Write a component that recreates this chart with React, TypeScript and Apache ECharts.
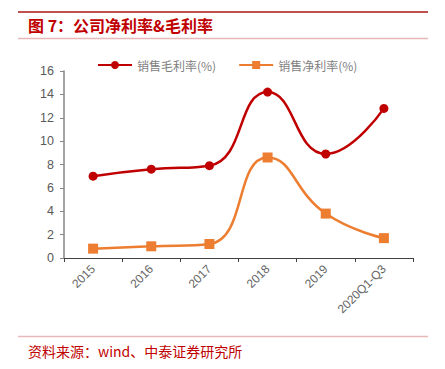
import React, { useEffect, useRef } from "react";
import * as echarts from "echarts";

const categories = ["2015", "2016", "2017", "2018", "2019", "2020Q1-Q3"];
const grossMargin = [7.0, 7.6, 7.9, 14.2, 8.9, 12.8];
const netMargin = [0.8, 1.0, 1.2, 8.6, 3.8, 1.7];
const seriesNames = ["销售毛利率(%)", "销售净利率(%)"];
const titleText = "图 7：公司净利率&毛利率";
const sourceText = "资料来源：wind、中泰证券研究所";

const CJK = '"Noto Sans CJK SC", sans-serif';

export default function App() {
  const ref = useRef<HTMLDivElement>(null);
  useEffect(() => {
    if (!ref.current) return;
    const chart = echarts.init(ref.current, undefined, { renderer: "svg" });
    chart.setOption({
      animation: false,
      backgroundColor: "#ffffff",
      legend: {
        top: 54,
        left: 92,
        itemGap: 22,
        itemWidth: 34,
        itemHeight: 10,
        textStyle: { color: "#7f7f7f", fontSize: 12, fontFamily: CJK },
        data: seriesNames,
      },
      grid: { left: 64, right: 32, top: 71, bottom: 111 },
      xAxis: {
        type: "category",
        data: categories,
        boundaryGap: true,
        axisLine: { lineStyle: { color: "#404040", width: 1 } },
        axisTick: { show: true, length: 4, lineStyle: { color: "#404040" } },
        axisLabel: {
          rotate: 45,
          color: "#666666",
          fontSize: 12,
          fontFamily: "Liberation Sans, sans-serif",
          margin: 9,
        },
      },
      yAxis: {
        type: "value",
        min: 0,
        max: 16,
        interval: 2,
        splitLine: { show: false },
        axisLine: { show: true, lineStyle: { color: "#868686", width: 1.5 } },
        axisTick: { show: true, length: 4, lineStyle: { color: "#868686" } },
        axisLabel: {
          color: "#595959",
          fontSize: 12.5,
          fontFamily: "Liberation Sans, sans-serif",
          margin: 10,
        },
      },
      series: [
        {
          name: seriesNames[0],
          type: "line",
          data: grossMargin,
          smooth: 0.5,
          symbol: "circle",
          symbolSize: 9,
          itemStyle: { color: "#c00000" },
          lineStyle: { color: "#c00000", width: 2.5 },
        },
        {
          name: seriesNames[1],
          type: "line",
          data: netMargin,
          smooth: 0.5,
          symbol: "rect",
          symbolSize: 10,
          itemStyle: { color: "#ed7d31" },
          lineStyle: { color: "#ed7d31", width: 2.5 },
        },
      ],
      graphic: [
        {
          type: "line",
          shape: { x1: 18, y1: 12, x2: 428, y2: 12 },
          style: { stroke: "#c0504d", lineWidth: 2 },
        },
        {
          type: "text",
          x: 28,
          y: 25,
          style: {
            text: titleText,
            fill: "#c00000",
            font: `bold 16px ${CJK}`,
            textVerticalAlign: "middle",
          },
        },
        {
          type: "line",
          shape: { x1: 18, y1: 38.5, x2: 428, y2: 38.5 },
          style: { stroke: "#e6b8b7", lineWidth: 1.5 },
        },
        {
          type: "line",
          shape: { x1: 18, y1: 336.5, x2: 428, y2: 336.5 },
          style: { stroke: "#e6b8b7", lineWidth: 1.5 },
        },
        {
          type: "text",
          x: 28,
          y: 351,
          style: {
            text: sourceText,
            fill: "#c00000",
            font: `14px ${CJK}`,
            textVerticalAlign: "middle",
          },
        },
      ],
    });
    return () => chart.dispose();
  }, []);
  return <div ref={ref} style={{ width: 445, height: 369, margin: -8 }} />;
}
